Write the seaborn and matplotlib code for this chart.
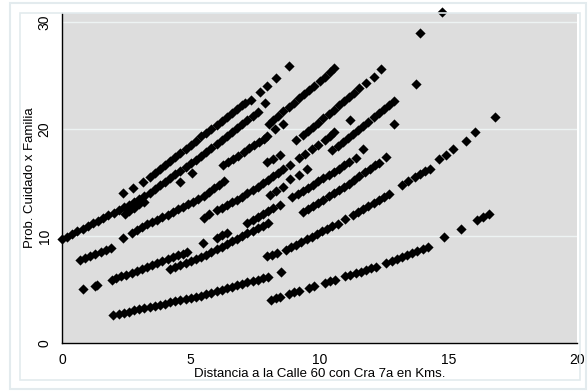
import matplotlib
matplotlib.use("Agg")
import matplotlib.pyplot as plt
from matplotlib.patches import Rectangle
import pandas as pd
import seaborn as sns

# values, one short list per visible run of points
a_x = [0.0, 0.2, 0.4, 0.6, 0.8, 1.0, 1.2, 1.4, 1.6, 1.8, 2.0, 2.2, 2.4, 2.6, 2.8, 3.0, 3.2, 3.4, 3.6, 3.8,
       4.0, 4.2, 4.4, 4.6, 4.8, 5.0, 5.2, 5.4, 5.6, 5.8, 6.0, 6.2, 6.4, 6.6, 6.8, 7.0, 7.2, 7.4, 7.6, 7.9]
a_y = [9.7, 9.95, 10.2, 10.44, 10.69, 10.94, 11.19, 11.44, 11.68, 11.93, 12.18, 12.43, 12.68, 12.93, 13.17,
       13.42, 13.7, 14.05, 14.39, 14.74, 15.08, 15.43, 15.77, 16.11, 16.46, 16.8, 17.14, 17.5, 17.87, 18.24,
       18.61, 18.99, 19.36, 19.74, 20.11, 20.48, 20.86, 21.23, 21.6, 22.4]

t_x = [2.36, 2.75, 3.14, 3.4, 3.6, 3.8, 4.0, 4.2, 4.4, 4.6, 4.8, 5.0, 5.2, 5.4, 5.6, 5.8, 6.0, 6.2, 6.4,
       6.6, 6.8, 7.0, 7.1, 7.33, 7.67, 7.95, 8.33, 8.8]
t_y = [14.0, 14.5, 15.0, 15.5, 15.88, 16.26, 16.64, 17.02, 17.4, 17.78, 18.16, 18.54, 18.92, 19.3, 19.66,
       20.03, 20.4, 20.76, 21.13, 21.5, 21.86, 22.23, 22.4, 22.7, 23.5, 24.0, 24.8, 25.9]

b_x = [2.44, 2.6, 2.8, 3.0, 3.2, 4.6, 5.05]
b_y = [12.1, 12.35, 12.65, 12.95, 13.2, 15.0, 15.9]

d_x = [0.7, 0.9, 1.1, 1.3, 1.5, 1.7, 1.9, 2.36, 2.7, 2.9, 3.1, 3.3, 3.5, 3.7, 3.9, 4.1, 4.3, 4.5, 4.7,
       4.9, 5.1, 5.3, 5.5, 5.7, 5.9, 6.1, 6.3]
d_y = [7.75, 7.9, 8.1, 8.3, 8.48, 8.68, 8.87, 9.8, 10.3, 10.6, 10.85, 11.1, 11.3, 11.52, 11.76, 12.0,
       12.24, 12.48, 12.72, 12.96, 13.2, 13.44, 13.75, 14.1, 14.44, 14.78, 15.13]

e_x = [0.81, 1.28, 1.36]
e_y = [5.0, 5.3, 5.4]

f_x = [1.94, 2.1, 2.3, 2.5, 2.7, 2.9, 3.1, 3.3, 3.5, 3.7, 3.9, 4.1, 4.3, 4.5, 4.7, 4.84, 5.47, 6.0, 6.2,
       6.4, 7.17, 7.4, 7.6, 7.8, 8.0, 8.2, 8.45]
f_y = [5.9, 6.05, 6.22, 6.4, 6.58, 6.75, 6.93, 7.1, 7.28, 7.46, 7.64, 7.82, 8.0, 8.18, 8.36, 8.5, 9.3,
       9.8, 10.05, 10.3, 11.2, 11.5, 11.78, 12.05, 12.3, 12.58, 12.9]

g_x = [4.2, 4.4, 4.6, 4.8, 5.0, 5.2, 5.4, 5.6, 5.8, 6.0, 6.2, 6.4, 6.6, 6.8, 7.0, 7.2, 7.4, 7.6, 7.8, 8.0]
g_y = [6.9, 7.08, 7.26, 7.45, 7.63, 7.82, 8.0, 8.25, 8.5, 8.75, 9.0, 9.25, 9.5, 9.75, 10.0, 10.24,
       10.49, 10.74, 10.98, 11.22]

h_x = [1.97, 2.2, 2.4, 2.6, 2.8, 3.0, 3.2, 3.4, 3.6, 3.8, 4.0, 4.2, 4.4, 4.6, 4.8, 5.0, 5.2, 5.4, 5.6,
       5.8, 6.0, 6.2, 6.4, 6.6, 6.8, 7.0, 7.2, 7.4, 7.6, 7.8, 8.0, 8.5]
h_y = [2.6, 2.72, 2.83, 2.93, 3.04, 3.15, 3.25, 3.36, 3.47, 3.57, 3.68, 3.79, 3.89, 4.0, 4.11, 4.21,
       4.32, 4.43, 4.57, 4.7, 4.84, 4.98, 5.11, 5.25, 5.39, 5.52, 5.66, 5.8, 5.93, 6.07, 6.2, 6.6]

i_x = [8.1, 8.3, 8.45, 8.8, 9.0, 9.2, 9.6, 9.8, 10.2, 10.4, 10.6, 11.0, 11.2, 11.4, 11.6, 11.8, 12.0,
       12.2, 12.6, 12.8, 13.0, 13.2, 13.4, 13.6, 13.8, 14.0, 14.2, 14.85, 15.5, 16.1, 16.35, 16.6]
i_y = [4.03, 4.18, 4.3, 4.57, 4.72, 4.87, 5.17, 5.32, 5.62, 5.77, 5.92, 6.22, 6.37, 6.53, 6.68, 6.83,
       6.98, 7.13, 7.48, 7.67, 7.86, 8.05, 8.24, 8.43, 8.62, 8.81, 9.0, 9.9, 10.65, 11.5, 11.8, 12.1]

k_x = [7.95, 8.15, 8.35, 8.7, 8.9, 9.1, 9.3, 9.5, 9.7, 9.9, 10.1, 10.3, 10.5, 10.7, 11.0, 11.3, 11.5,
       11.7, 11.9, 12.1, 12.3, 12.5, 12.7, 13.2, 13.45, 13.7, 13.9, 14.1, 14.3, 14.65, 14.9, 15.2, 15.7, 16.05]
k_y = [8.1, 8.25, 8.4, 8.7, 8.95, 9.2, 9.45, 9.7, 9.93, 10.17, 10.45, 10.7, 10.9, 11.1, 11.55, 12.0,
       12.28, 12.56, 12.84, 13.12, 13.4, 13.68, 13.96, 14.8, 15.1, 15.55, 15.8, 16.05, 16.3, 17.2, 17.6,
       18.1, 18.9, 19.7]

m_x = [5.5, 5.7, 6.0, 6.2, 6.4, 6.6, 6.8, 7.0, 7.2, 7.4, 7.6, 7.8, 8.0, 8.2, 8.4, 8.6, 8.84]
m_y = [11.7, 12.1, 12.4, 12.65, 12.9, 13.14, 13.38, 13.66, 13.98, 14.3, 14.62, 14.94, 15.26, 15.58,
       15.9, 16.22, 16.6]

c_x = [6.24, 6.45, 6.65, 6.85, 7.05, 7.25, 7.45, 7.65, 7.85, 7.95]
c_y = [16.6, 16.9, 17.2, 17.5, 17.85, 18.2, 18.5, 18.8, 19.1, 19.3]

r1_x = [8.02, 8.26, 8.57, 8.2, 8.4, 8.6, 8.8, 9.0, 9.2, 9.4, 9.6, 9.8, 10.0, 10.2, 10.4, 10.58]
r1_y = [20.5, 20.0, 20.5, 20.85, 21.25, 21.65, 22.05, 22.45, 22.85, 23.25, 23.65, 24.05, 24.45, 24.9,
        25.3, 25.7]

r2_x = [9.1, 9.35, 9.55, 9.75, 9.95, 10.15, 10.35, 10.55, 10.75, 10.95, 11.15, 11.35, 11.55, 11.82,
        12.13, 12.4]
r2_y = [19.0, 19.4, 19.8, 20.2, 20.6, 21.0, 21.4, 21.8, 22.2, 22.6, 23.0, 23.4, 23.8, 24.3, 24.9, 25.6]

r3_x = [9.22, 9.45, 9.7, 9.95, 10.2, 10.4, 10.58]
r3_y = [17.3, 17.7, 18.1, 18.55, 19.0, 19.35, 19.7]

r4_x = [10.5, 10.7, 10.9, 11.1, 11.3, 11.5, 11.7, 11.9, 12.1, 12.3, 12.5, 12.7, 12.9]
r4_y = [18.0, 18.38, 18.76, 19.14, 19.52, 19.9, 20.3, 20.7, 21.08, 21.46, 21.86, 22.26, 22.6]

p_x = [8.95, 9.15, 9.35, 9.55, 9.75, 9.95, 10.15, 10.35, 10.55, 10.75, 10.95, 11.15, 11.4, 11.67]
p_y = [13.6, 13.9, 14.2, 14.5, 14.8, 15.1, 15.4, 15.7, 16.0, 16.3, 16.6, 16.9, 17.3, 18.1]

q_x = [9.35, 9.55, 9.75, 9.95, 10.15, 10.35, 10.55, 10.75, 10.95, 11.15, 11.35, 11.55, 11.75, 11.95,
       12.15, 12.3, 12.6]
q_y = [12.2, 12.5, 12.8, 13.1, 13.4, 13.7, 14.0, 14.3, 14.6, 14.9, 15.2, 15.6, 16.0, 16.3, 16.6,
       16.85, 17.4]

# loose points and short dashes
s_x = [7.98, 8.2, 8.45, 8.06, 8.3, 8.57, 8.84, 9.22, 9.5, 11.2, 12.9, 13.76, 13.9, 14.77, 16.8]
s_y = [16.9, 17.2, 17.6, 13.8, 14.2, 14.6, 15.3, 15.7, 16.3, 20.8, 20.5, 24.2, 29.0, 30.9, 21.1]

x_ticks = [0, 5, 10, 15, 20]
y_ticks = [0, 10, 20, 30]

all_x = (a_x + t_x + b_x + d_x + e_x + f_x + g_x + h_x + i_x + k_x + m_x + c_x
         + r1_x + r2_x + r3_x + r4_x + p_x + q_x + s_x)
all_y = (a_y + t_y + b_y + d_y + e_y + f_y + g_y + h_y + i_y + k_y + m_y + c_y
         + r1_y + r2_y + r3_y + r4_y + p_y + q_y + s_y)
df = pd.DataFrame({"dist": all_x, "prob": all_y})

sns.set_style("white")
plt.rcParams["font.family"] = ["Liberation Sans", "DejaVu Sans"]

fig = plt.figure(figsize=(5.88, 3.91), dpi=100)
fig.patch.set_facecolor("white")

# stata style frames round the graph
frame_col = "#E3EBEE"
fig.add_artist(Rectangle((10 / 588, 1 - 389 / 391), 576 / 588, 386 / 391, transform=fig.transFigure,
                         fill=False, edgecolor=frame_col, lw=1.5))
fig.add_artist(Rectangle((20 / 588, 1 - 380 / 391), 560 / 588, 367 / 391, transform=fig.transFigure,
                         fill=False, edgecolor=frame_col, lw=1.2))

ax = fig.add_axes([62 / 588, 1 - 343 / 391, 515 / 588, 330 / 391])
ax.set_facecolor("#DDDDDD")

sns.scatterplot(data=df, x="dist", y="prob", ax=ax, marker="D", color="black",
                s=27, linewidth=0, clip_on=False, legend=False, zorder=3)

ax.set_xlim(0, 20)
ax.set_ylim(0, 30.84)
ax.set_xticks(x_ticks)
ax.set_yticks(y_ticks)
ax.grid(axis="y", color="#EDF3F3", lw=1)
ax.grid(axis="x", visible=False)
ax.set_axisbelow(True)

for side in ["top", "right"]:
    ax.spines[side].set_visible(False)
for side in ["left", "bottom"]:
    ax.spines[side].set_color("black")
    ax.spines[side].set_linewidth(1)

ax.tick_params(axis="both", direction="out", length=5, width=1, color="black",
               labelsize=10, labelcolor="black")
ax.tick_params(axis="x", pad=2.5)
ax.tick_params(axis="y", pad=2.5)
for lbl in ax.get_yticklabels():
    lbl.set_rotation(90)
    lbl.set_va("center")

ax.set_xlabel("Distancia a la Calle 60 con Cra 7a en Kms.", fontsize=9.5, color="black")
ax.set_ylabel("Prob. Cuidado x Familia", fontsize=9.5, color="black")
ax.xaxis.set_label_coords(0.5, -0.094)
ax.xaxis.label.set_va("center")
ax.yaxis.set_label_coords(-0.063, 0.5)
ax.yaxis.label.set_va("center")

fig.savefig("out.png", dpi=100)
